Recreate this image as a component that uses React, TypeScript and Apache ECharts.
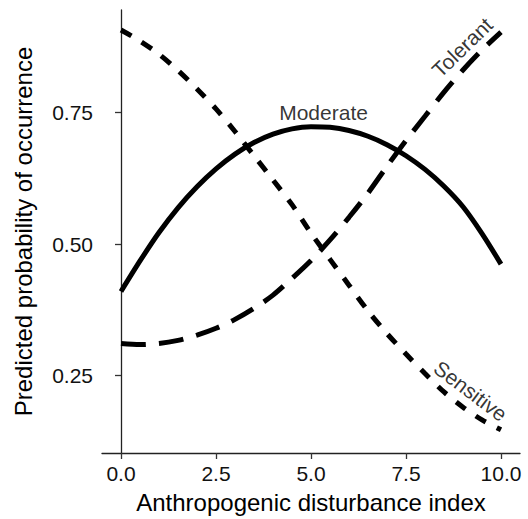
import React, { useEffect, useRef } from "react";
import * as echarts from "echarts";

const xValues = [0, 0.5, 1, 1.5, 2, 2.5, 3, 3.5, 4, 4.5, 5, 5.5, 6, 6.5, 7, 7.5, 8, 8.5, 9, 9.5, 10];
const moderate = [0.41, 0.468, 0.522, 0.569, 0.609, 0.643, 0.671, 0.693, 0.709, 0.719, 0.723, 0.722, 0.716, 0.705, 0.689, 0.668, 0.642, 0.61, 0.571, 0.52, 0.462];
const tolerant = [0.311, 0.309, 0.311, 0.317, 0.327, 0.34, 0.357, 0.378, 0.403, 0.435, 0.469, 0.508, 0.551, 0.597, 0.648, 0.697, 0.743, 0.789, 0.831, 0.869, 0.903];
const sensitive = [0.907, 0.886, 0.861, 0.83, 0.795, 0.757, 0.714, 0.668, 0.622, 0.575, 0.521, 0.471, 0.422, 0.373, 0.33, 0.291, 0.254, 0.219, 0.19, 0.166, 0.147];

const xTicks = [0, 2.5, 5, 7.5, 10];
const yTicks = [0.25, 0.5, 0.75];

const curveLabels = [
  { name: "Moderate", x: 5.33, y: 0.75, rotate: 0 },
  { name: "Tolerant", x: 8.98, y: 0.874, rotate: 44 },
  { name: "Sensitive", x: 9.2, y: 0.221, rotate: -37 },
];

const FONT = "'Liberation Sans', Arial, Helvetica, sans-serif";

export default function App() {
  const ref = useRef<HTMLDivElement>(null);
  useEffect(() => {
    if (!ref.current) return;
    const chart = echarts.init(ref.current, undefined, { renderer: "svg" });
    const pairs = (ys: number[]) => xValues.map((x, i) => [x, ys[i]]);
    const lineBase = {
      type: "line",
      showSymbol: false,
      symbol: "none",
      smooth: 0.3,
      silent: true,
    };
    chart.setOption({
      animation: false,
      backgroundColor: "#ffffff",
      textStyle: { fontFamily: FONT },
      grid: { left: 102, right: 8, top: 10, bottom: 61.5, containLabel: false },
      xAxis: {
        type: "value",
        min: -0.5,
        max: 10.5,
        name: "Anthropogenic disturbance index",
        nameLocation: "middle",
        nameGap: 37,
        nameTextStyle: { fontSize: 24, color: "#000", fontFamily: FONT },
        splitLine: { show: false },
        axisLine: { show: true, lineStyle: { color: "#222", width: 1.3 } },
        axisTick: { show: true, length: 6, customValues: xTicks, lineStyle: { color: "#333", width: 1.3 } },
        axisLabel: {
          customValues: xTicks,
          formatter: (v: number) => v.toFixed(1),
          fontSize: 21,
          color: "#111",
          margin: 10,
          fontFamily: FONT,
        },
      },
      yAxis: {
        type: "value",
        min: 0.103,
        max: 0.945,
        name: "Predicted probability of occurrence",
        nameLocation: "middle",
        nameGap: 67,
        nameRotate: 90,
        nameTextStyle: { fontSize: 24, color: "#000", fontFamily: FONT },
        splitLine: { show: false },
        axisLine: { show: true, lineStyle: { color: "#222", width: 1.3 } },
        axisTick: { show: true, length: 6, customValues: yTicks, lineStyle: { color: "#333", width: 1.3 } },
        axisLabel: {
          customValues: yTicks,
          formatter: (v: number) => v.toFixed(2),
          fontSize: 21,
          color: "#111",
          margin: 9,
          fontFamily: FONT,
        },
      },
      series: [
        {
          ...lineBase,
          name: "Moderate",
          data: pairs(moderate),
          lineStyle: { color: "#000", width: 5, type: "solid", cap: "butt" },
        },
        {
          ...lineBase,
          name: "Tolerant",
          data: pairs(tolerant),
          lineStyle: { color: "#000", width: 5, type: [25, 13], cap: "butt" },
        },
        {
          ...lineBase,
          name: "Sensitive",
          data: pairs(sensitive),
          lineStyle: { color: "#000", width: 5, type: [12, 12], cap: "butt" },
        },
        {
          type: "scatter",
          symbolSize: 0,
          silent: true,
          data: curveLabels.map((l) => ({
            value: [l.x, l.y],
            name: l.name,
            label: {
              show: true,
              position: "inside",
              rotate: l.rotate,
              formatter: l.name,
              fontSize: 21,
              color: "#000",
              fontFamily: FONT,
            },
          })),
        },
      ],
    });
    return () => chart.dispose();
  }, []);
  return <div ref={ref} style={{ width: 528, height: 519, position: "absolute", left: 0, top: 0 }} />;
}
